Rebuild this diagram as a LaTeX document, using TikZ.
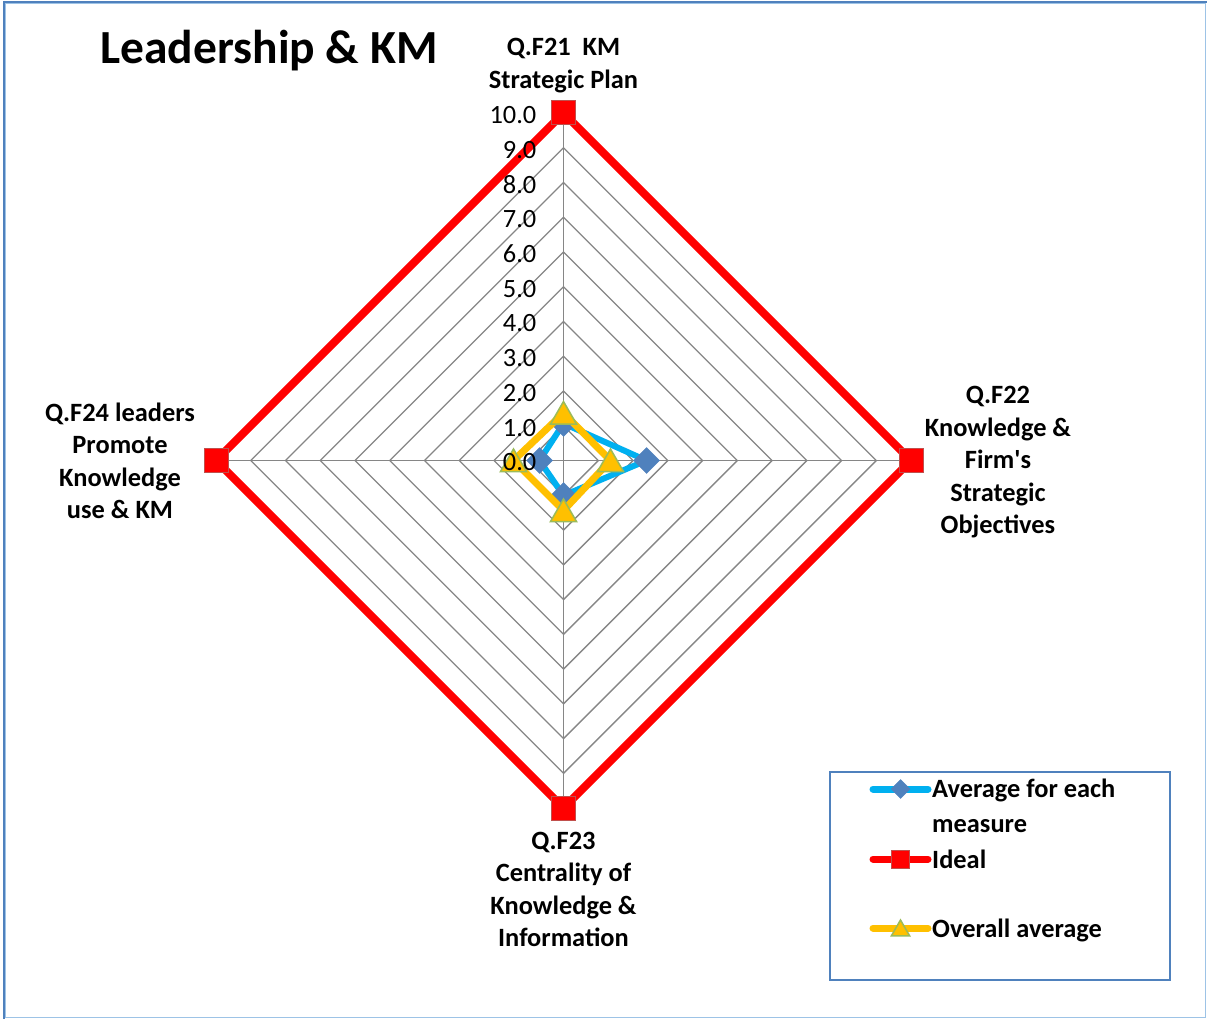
\documentclass[tikz,border=0pt]{standalone}
\usepackage{fontspec}
\setmainfont{Carlito}[Ligatures=TeXOff]
\usetikzlibrary{shapes.geometric,calc}
\definecolor{gridgray}{HTML}{868686}
\definecolor{idealred}{HTML}{FF0000}
\definecolor{sqborder}{HTML}{C0504D}
\definecolor{avgblue}{HTML}{00B0F0}
\definecolor{dblue}{HTML}{4F81BD}
\definecolor{ovyellow}{HTML}{FFC000}
\definecolor{trigreen}{HTML}{9BBB59}
\definecolor{framedark}{HTML}{4F81BD}
\definecolor{framelight}{HTML}{9DC3E6}
\begin{document}
\begin{tikzpicture}[x=1pt,y=-1pt,
  gridline/.style={draw=gridgray, line width=1.4pt},
  idealline/.style={draw=idealred, line width=8pt, line join=round},
  avgline/.style={draw=avgblue, line width=6pt, line join=round},
  ovline/.style={draw=ovyellow, line width=7pt, line join=round},
  sqmark/.style={rectangle, fill=idealred, draw=sqborder, line width=1pt, minimum size=24pt, inner sep=0pt},
  dmark/.style={diamond, fill=dblue, draw=dblue, line width=0.5pt, minimum width=26pt, minimum height=26pt, inner sep=0pt},
  tmark/.style={regular polygon, regular polygon sides=3, fill=ovyellow, draw=trigreen, line width=1.5pt, minimum size=30pt, inner sep=0pt, yshift=-3.5pt},
  axlabel/.style={font=\bfseries\fontsize{26.4}{32.5}\selectfont, align=center, inner sep=0pt},
  ticklabel/.style={font=\fontsize{26.4}{30}\selectfont, anchor=east, inner sep=0pt},
  legtext/.style={font=\bfseries\fontsize{26.4}{35}\selectfont, align=left, inner sep=0pt, anchor=base west}
]
\useasboundingbox (0,0) rectangle (1207,1019);
\fill[white] (0,0) rectangle (1207,1019);
% frame
\draw[framelight, line width=1.5pt] (5,3) rectangle (1205.5,1017.5);
\draw[framedark, line width=2pt] (3,2) -- (1207,2);
\draw[framedark, line width=2pt] (3.5,1) -- (3.5,1019);

% title
\node[font=\bfseries\fontsize{47.5}{55}\selectfont, inner sep=0pt] (title) at (269,51) {Leadership \& KM};

\begin{scope}[shift={(563.5,460.5)}]
  % grid rings
  \foreach \k in {1,...,10}{
    \draw[gridline] (0,-\k*34.75) -- (\k*34.75,0) -- (0,\k*34.75) -- (-\k*34.75,0) -- cycle;
  }
  \draw[gridline] (0,-347.5) -- (0,347.5);
  \draw[gridline] (-347.5,0) -- (347.5,0);

  % ideal
  \coordinate (i1) at (0,-347.5);
  \coordinate (i2) at (347.5,0);
  \coordinate (i3) at (0,347.5);
  \coordinate (i4) at (-347.5,0);
  \draw[idealline] (i1) -- (i2) -- (i3) -- (i4) -- cycle;
  \node[sqmark] (mi1) at (i1) {};
  \node[sqmark] (mi2) at (i2) {};
  \node[sqmark] (mi3) at (i3) {};
  \node[sqmark] (mi4) at (i4) {};

  % average for each measure
  \coordinate (a1) at (0,-37);
  \coordinate (a2) at (83,0);
  \coordinate (a3) at (0,35);
  \coordinate (a4) at (-24,0);
  \draw[avgline] (a1) -- (a2) -- (a3) -- (a4) -- cycle;
  \node[dmark] (ma1) at (a1) {};
  \node[dmark] (ma2) at (a2) {};
  \node[dmark] (ma3) at (a3) {};
  \node[dmark] (ma4) at (a4) {};

  % overall average
  \coordinate (o1) at (0,-47.5);
  \coordinate (o2) at (47,0);
  \coordinate (o3) at (0,50);
  \coordinate (o4) at (-50,0);
  \draw[ovline] (o1) -- (o2) -- (o3) -- (o4) -- cycle;
  \node[tmark] (mo1) at (o1) {};
  \node[tmark] (mo2) at (o2) {};
  \node[tmark] (mo3) at (o3) {};
  \node[tmark] (mo4) at (o4) {};

  % tick labels
  \foreach \k in {0,...,10}{
    \node[ticklabel] (t\k) at (-27,-\k*34.75+2) {\k.0};
  }
\end{scope}

% axis labels
\node[axlabel] (lab1) at (563.5,65.5) {Q.F21\ \ KM\\Strategic Plan};
\node[axlabel] (lab2) at (998,462.5) {Q.F22\\Knowledge \&\\Firm's\\Strategic\\Objectives};
\node[axlabel] (lab3) at (563.5,889.5) {Q.F23\\Centrality of\\Knowledge \&\\Information};
\node[axlabel] (lab4) at (120,461) {Q.F24 leaders\\Promote\\Knowledge\\use \& KM};

% legend
\node[draw=dblue, line width=1.5pt, minimum width=340pt, minimum height=208pt, inner sep=0pt] (legend) at (1000,876) {};
\coordinate (la1) at (873,789);
\coordinate (la2) at (928,789);
\draw[avgline, line width=7pt, line cap=round] (la1) -- (la2);
\node[dmark, minimum width=19pt, minimum height=19pt] (lma) at (900.5,789) {};
\coordinate (li1) at (873,859);
\coordinate (li2) at (928,859);
\draw[idealline, line width=7pt, line cap=round] (li1) -- (li2);
\node[sqmark, minimum size=18pt] (lmi) at (900.5,859) {};
\coordinate (lo1) at (873,928);
\coordinate (lo2) at (928,928);
\draw[ovline, line width=7pt, line cap=round] (lo1) -- (lo2);
\node[tmark, minimum size=21pt, yshift=1pt] (lmo) at (900.5,928) {};
\node[legtext] (lt1) at (932,832) {Average for each\\measure};
\node[legtext] (lt2) at (932,868) {Ideal};
\node[legtext] (lt3) at (932,937) {Overall average};
\end{tikzpicture}
\end{document}
